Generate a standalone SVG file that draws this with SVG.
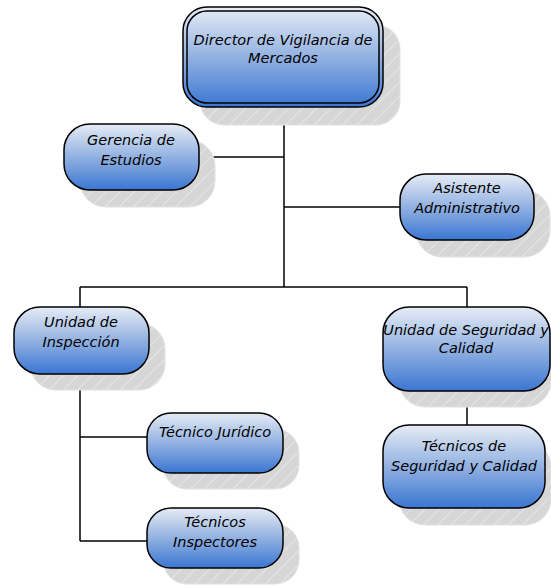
<svg xmlns="http://www.w3.org/2000/svg" width="551" height="588" viewBox="0 0 551 588">
  <defs>
    <linearGradient id="fillBlue" x1="0" y1="0" x2="0" y2="1">
      <stop offset="0" stop-color="#e6ecf5"/>
      <stop offset="0.5" stop-color="#92b1e1"/>
      <stop offset="1" stop-color="#3a76d2"/>
    </linearGradient>
    <pattern id="hatch" width="10" height="10" patternUnits="userSpaceOnUse" patternTransform="rotate(45)">
      <rect width="10" height="10" fill="#d6d6d6"/>
      <line x1="0" y1="0" x2="0" y2="10" stroke="#e6e6e6" stroke-width="2"/>
    </pattern>
    <style>
      .shadow { fill: url(#hatch); stroke: #e2e2e2; stroke-width: 1; }
      .box { fill: url(#fillBlue); stroke: #000; stroke-width: 1.5; }
      .inner { fill: none; stroke: #000; stroke-width: 1.5; }
      .lbl { font-family: "DejaVu Sans", "Liberation Sans", sans-serif; font-style: italic; font-size: 14.5px; fill: #000; text-anchor: middle; }
      .wire { fill: none; stroke: #000; stroke-width: 1.5; }
    </style>
  </defs>

  <!-- connectors -->
  <g id="connectors">
    <path class="wire" d="M284,107 V287"/>
    <path class="wire" d="M199,157 H284"/>
    <path class="wire" d="M284,207 H400"/>
    <path class="wire" d="M80,287 H467"/>
    <path class="wire" d="M80,287 V307"/>
    <path class="wire" d="M467,287 V307"/>
    <path class="wire" d="M80,374 V541"/>
    <path class="wire" d="M80,437 H147"/>
    <path class="wire" d="M80,541 H147"/>
    <path class="wire" d="M467,391 V425"/>
  </g>

  <!-- Director -->
  <g id="director">
    <rect class="shadow" x="200" y="25" width="200" height="100" rx="24"/>
    <rect class="box" x="183" y="7" width="200" height="100" rx="24"/>
    <rect class="inner" x="187" y="11" width="192" height="92" rx="20"/>
    <text class="lbl" x="283" y="45">Director de Vigilancia de</text>
    <text class="lbl" x="283" y="63">Mercados</text>
  </g>

  <!-- Gerencia de Estudios -->
  <g id="gerencia">
    <rect class="shadow" x="80" y="140" width="135" height="67" rx="26"/>
    <rect class="box" x="64" y="124" width="135" height="66" rx="26"/>
    <text class="lbl" x="131" y="145">Gerencia de</text>
    <text class="lbl" x="131" y="165">Estudios</text>
  </g>

  <!-- Asistente Administrativo -->
  <g id="asistente">
    <rect class="shadow" x="416" y="190" width="134" height="67" rx="26"/>
    <rect class="box" x="400" y="174" width="134" height="66" rx="26"/>
    <text class="lbl" x="467" y="193">Asistente</text>
    <text class="lbl" x="467" y="213">Administrativo</text>
  </g>

  <!-- Unidad de Inspección -->
  <g id="inspeccion">
    <rect class="shadow" x="30" y="323" width="135" height="67" rx="26"/>
    <rect class="box" x="14" y="307" width="135" height="67" rx="26"/>
    <text class="lbl" x="81" y="327">Unidad de</text>
    <text class="lbl" x="81" y="347">Inspección</text>
  </g>

  <!-- Unidad de Seguridad y Calidad -->
  <g id="seguridad">
    <rect class="shadow" x="399" y="323" width="152" height="84" rx="26"/>
    <rect class="box" x="383" y="307" width="167" height="84" rx="26"/>
    <text class="lbl" x="466" y="335">Unidad de Seguridad y</text>
    <text class="lbl" x="466" y="353">Calidad</text>
  </g>

  <!-- Técnico Jurídico -->
  <g id="juridico">
    <rect class="shadow" x="163" y="429" width="136" height="60" rx="24"/>
    <rect class="box" x="147" y="413" width="136" height="60" rx="24"/>
    <text class="lbl" x="215" y="437">Técnico Jurídico</text>
  </g>

  <!-- Técnicos de Seguridad y Calidad -->
  <g id="tec-seguridad">
    <rect class="shadow" x="399" y="441" width="152" height="84" rx="26"/>
    <rect class="box" x="383" y="425" width="162" height="83" rx="26"/>
    <text class="lbl" x="464" y="451">Técnicos de</text>
    <text class="lbl" x="464" y="471">Seguridad y Calidad</text>
  </g>

  <!-- Técnicos Inspectores -->
  <g id="inspectores">
    <rect class="shadow" x="163" y="524" width="136" height="60" rx="24"/>
    <rect class="box" x="147" y="508" width="136" height="60" rx="24"/>
    <text class="lbl" x="215" y="527">Técnicos</text>
    <text class="lbl" x="215" y="547">Inspectores</text>
  </g>
</svg>
